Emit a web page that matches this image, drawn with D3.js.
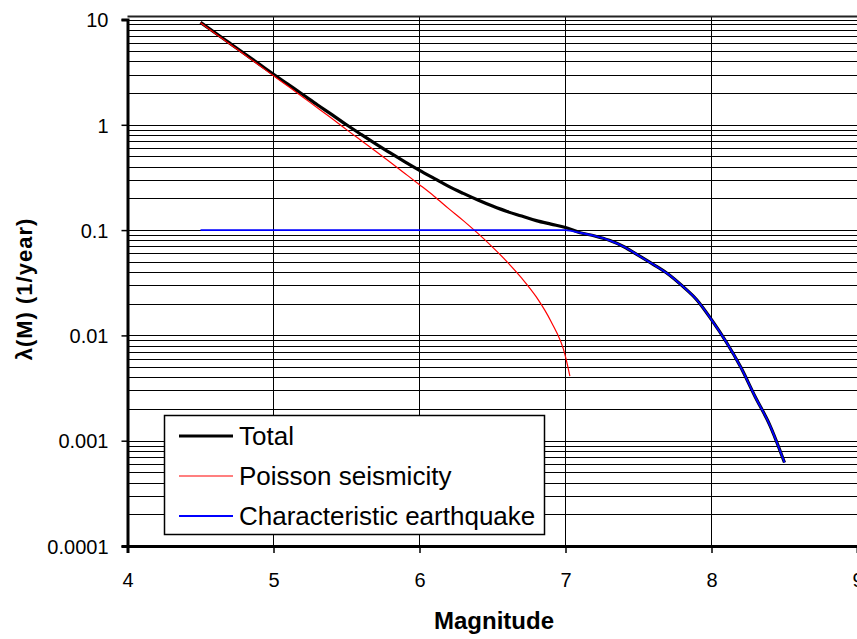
<!DOCTYPE html>
<html><head><meta charset="utf-8">
<script src="https://cdn.jsdelivr.net/npm/d3@7"></script>
<style>body{margin:0;background:#fff;overflow:hidden} svg{display:block}</style>
</head><body><svg id="c" width="857" height="639"></svg>
<script>
// ---- data ----
const poissonMag  = [4.5,4.6,4.7,4.8,4.9,5.0,5.1,5.2,5.3,5.4,5.5,5.6,5.7,5.8,5.9,6.0,6.1,6.2,6.3,6.4,6.5,6.6,6.7,6.8,6.9,7.0,7.03];
const poissonRate = [9.30,7.38,5.86,4.65,3.69,2.92,2.32,1.84,1.45,1.15,0.90,0.71,0.56,0.44,0.345,0.270,0.210,0.160,0.123,0.093,0.069,0.050,0.035,0.0232,0.0136,0.0063,0.0041];

const charMag  = [4.5,7.0,7.1,7.2,7.3,7.4,7.5,7.6,7.7,7.8,7.9,8.0,8.1,8.2,8.3,8.4,8.5];
const charRate = [0.1,0.1,0.0944,0.088,0.080,0.0695,0.0575,0.0473,0.0385,0.0295,0.0217,0.0141,0.0087,0.0050,0.0026,0.0014,0.00062];

const totalMag  = [4.5,4.6,4.7,4.8,4.9,5.0,5.1,5.2,5.3,5.4,5.5,5.6,5.7,5.8,5.9,6.0,6.1,6.2,6.3,6.4,6.5,6.6,6.7,6.8,6.9,7.0,7.1,7.2,7.3,7.4,7.5,7.6,7.7,7.8,7.9,8.0,8.1,8.2,8.3,8.4,8.5];
const totalRate = [9.40,7.48,5.96,4.75,3.79,3.02,2.42,1.94,1.55,1.25,1.0,0.81,0.66,0.54,0.445,0.370,0.310,0.260,0.223,0.193,0.169,0.150,0.136,0.123,0.114,0.106,0.0944,0.088,0.080,0.0695,0.0575,0.0473,0.0385,0.0295,0.0217,0.0141,0.0087,0.0050,0.0026,0.0014,0.00062];

const xTicks = [4,5,6,7,8,9];
const yTicks = [10,1,0.1,0.01,0.001,0.0001];
const yTickLabels = ["10","1","0.1","0.01","0.001","0.0001"];
const seriesNames = ["Total","Poisson seismicity","Characteristic earthquake"];
const seriesColors = ["#000000","#ff0000","#0000ff"];

// ---- layout ----
const svg = d3.select("#c");
const x = d3.scaleLinear().domain([4,9]).range([127.5,857.5]);
const y = d3.scaleLog().domain([0.0001,10]).range([546,19.5]);
const font = "'Liberation Sans', Arial, sans-serif";

// minor/major horizontal gridlines
const hGrid = [];
for (let e=-4; e<=0; e++) for (let k=1; k<=9; k++) hGrid.push(k*Math.pow(10,e));
hGrid.push(10);
svg.append("g").selectAll("line").data(hGrid).join("line")
  .attr("x1", x(4)).attr("x2", x(9)+2)
  .attr("y1", d=>Math.round(y(d))+0.5).attr("y2", d=>Math.round(y(d))+0.5)
  .attr("stroke","#000").attr("stroke-width",1);

// vertical gridlines
svg.append("g").selectAll("line").data([5,6,7,8,9]).join("line")
  .attr("x1", d=>Math.round(x(d))-0.5).attr("x2", d=>Math.round(x(d))-0.5)
  .attr("y1", 17).attr("y2", y(0.0001))
  .attr("stroke","#000").attr("stroke-width",1);

// top border
svg.append("line").attr("x1",x(4)).attr("x2",860).attr("y1",16.5).attr("y2",16.5)
  .attr("stroke","#222").attr("stroke-width",2);

// axes
const yAxis = d3.axisLeft(y).tickValues(yTicks).tickFormat((d,i)=>yTickLabels[i]).tickSize(6).tickPadding(13);
const gy = svg.append("g").attr("transform",`translate(${x(4)},0)`).call(yAxis);
const xAxis = d3.axisBottom(x).tickValues(xTicks).tickFormat(d3.format("d")).tickSize(7).tickPadding(20);
const gx = svg.append("g").attr("transform",`translate(0,${y(0.0001)})`).call(xAxis);
[gx,gy].forEach(g=>{
  g.select(".domain").attr("stroke","#000").attr("stroke-width",3);
  g.selectAll(".tick line").attr("stroke","#000").attr("stroke-width",1.5);
  g.selectAll(".tick text").attr("fill","#000").style("font-family",font).style("font-size","20px");
});
gy.selectAll(".tick text").attr("dy","0.36em");
gx.selectAll(".tick text").attr("dy","0.71em");

// series lines
const line = d3.line().x(d=>x(d[0])).y(d=>y(d[1])).curve(d3.curveMonotoneX);
const totalData = totalMag.map((m,i)=>[m,totalRate[i]]);
const poissonData = poissonMag.map((m,i)=>[m,poissonRate[i]]);
const charData = charMag.map((m,i)=>[m,charRate[i]]);
svg.append("path").datum(totalData).attr("d",line).attr("fill","none")
  .attr("stroke",seriesColors[0]).attr("stroke-width",3.2);
svg.append("path").datum(poissonData).attr("d",line).attr("fill","none")
  .attr("stroke",seriesColors[1]).attr("stroke-width",1.2);
svg.append("path").datum(charData).attr("d",line).attr("fill","none")
  .attr("stroke",seriesColors[2]).attr("stroke-width",1.8);

// legend
const lg = svg.append("g");
lg.append("rect").attr("x",164.5).attr("y",415.5).attr("width",380).attr("height",119)
  .attr("fill","#fff").attr("stroke","#000").attr("stroke-width",1.5);
const legY = [436,476,516];
const legW = [3,1.2,1.8];
seriesNames.forEach((n,i)=>{
  lg.append("line").attr("x1",179).attr("x2",233).attr("y1",legY[i]).attr("y2",legY[i])
    .attr("stroke",seriesColors[i]).attr("stroke-width",legW[i]);
  lg.append("text").attr("x",239).attr("y",legY[i]+9).text(n)
    .style("font-family",font).style("font-size","26px").attr("fill","#000");
});

// axis titles
svg.append("text").attr("x",494).attr("y",629).attr("text-anchor","middle")
  .style("font-family",font).style("font-size","24px").style("font-weight","bold").text("Magnitude");
svg.append("text").attr("transform","translate(32,289) rotate(-90)").attr("text-anchor","middle")
  .style("font-family",font).style("font-size","22px").style("font-weight","bold")
  .style("letter-spacing","1px").text("λ(M) (1/year)");
</script></body></html>
